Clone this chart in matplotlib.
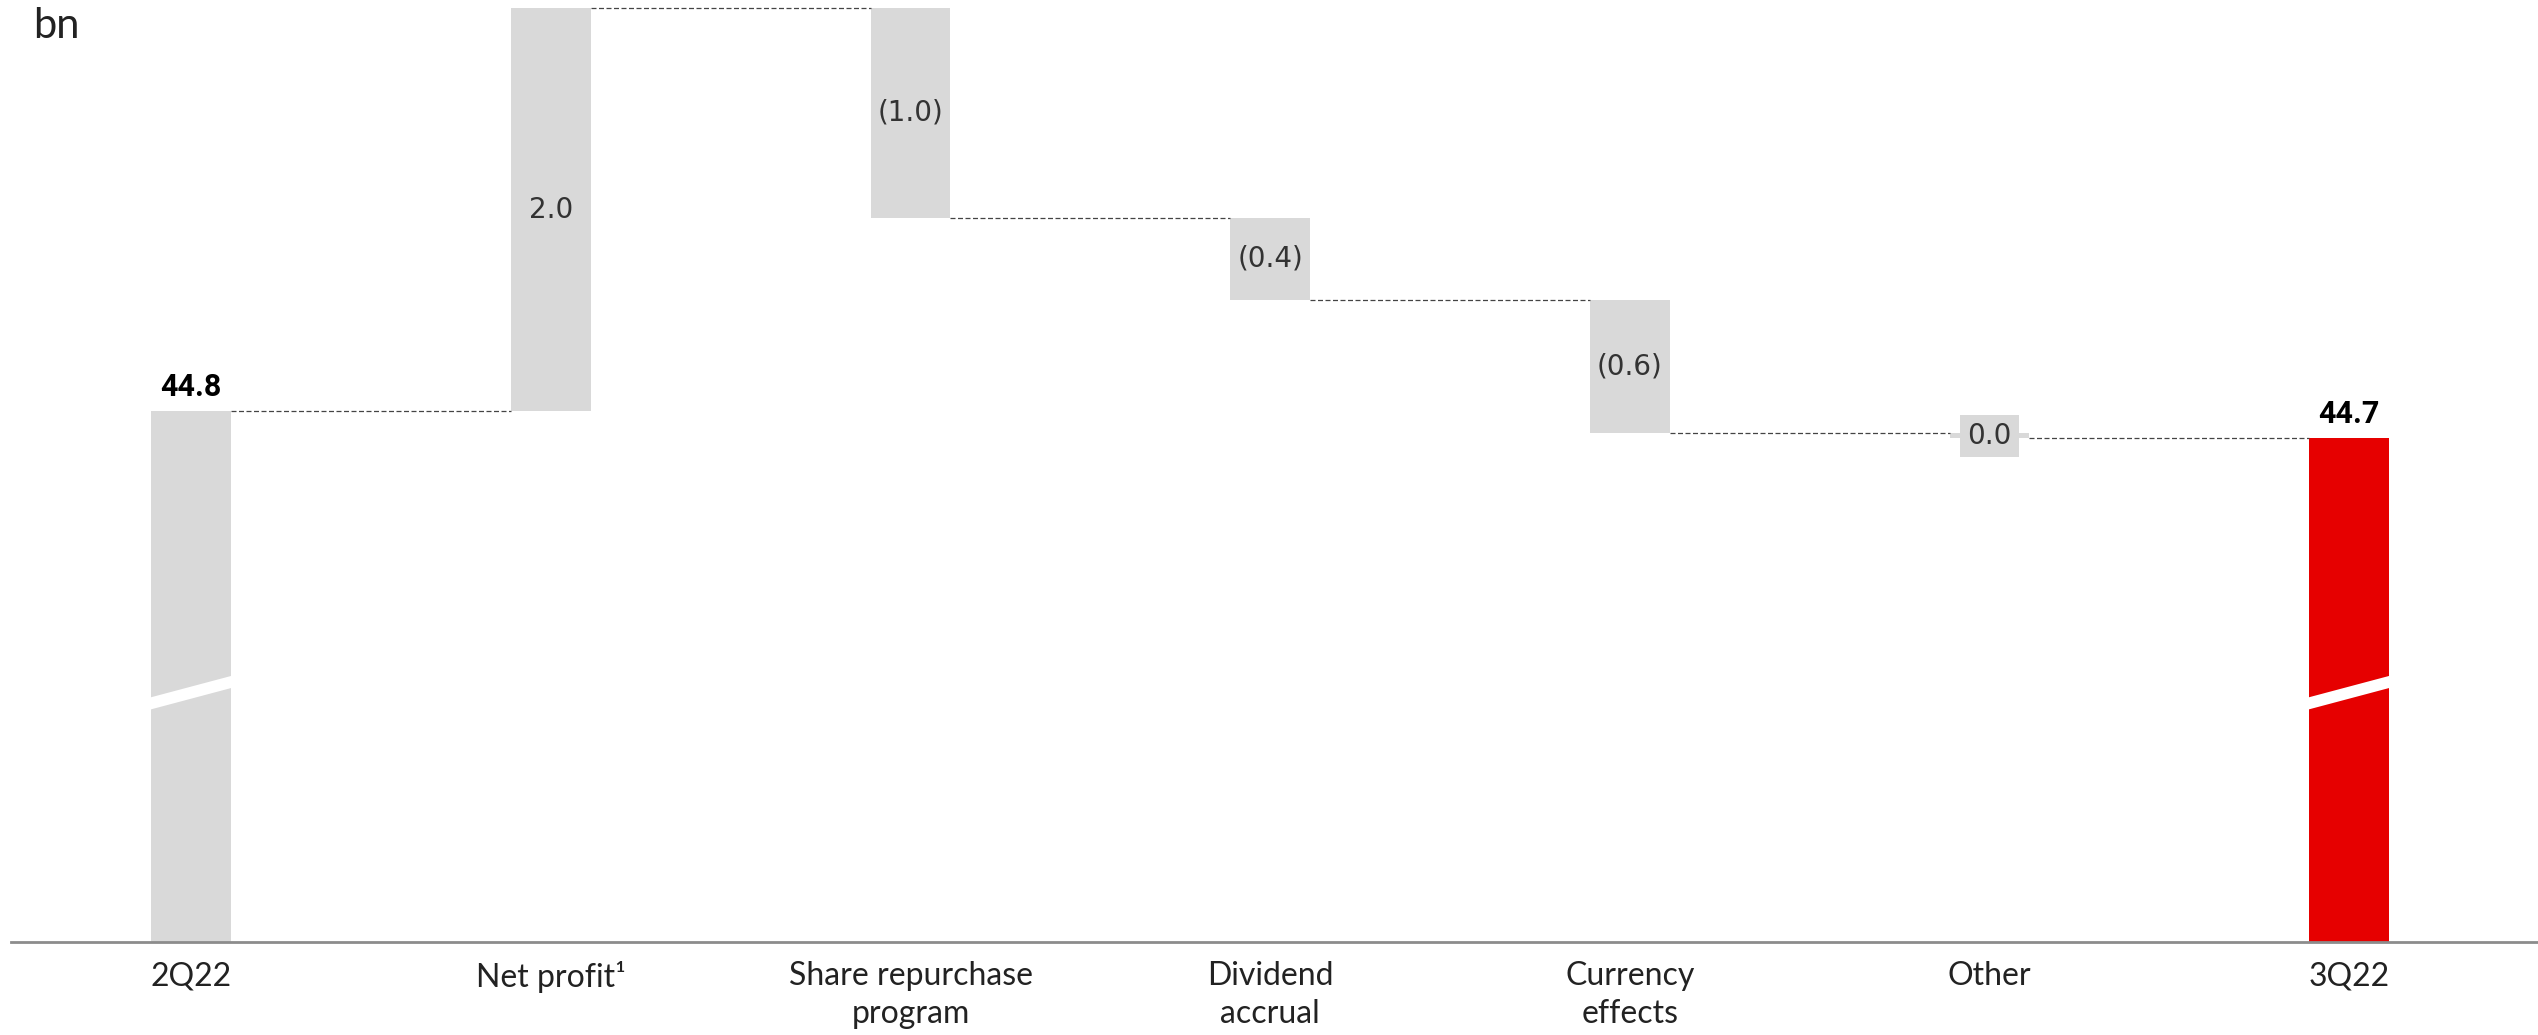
import numpy as np
import matplotlib.pyplot as plt
from matplotlib.patches import Polygon

# data (USD bn)
categories = ["2Q22", "Net profit\u00b9", "Share repurchase\nprogram",
              "Dividend\naccrual", "Currency\neffects", "Other", "3Q22"]
start_value = 44.8
deltas = [2.0, -1.04, -0.41, -0.66, -0.025]
delta_labels = ["2.0", "(1.0)", "(0.4)", "(0.6)", "0.0"]
start_label = "44.8"
end_label = "44.7"

GREY = "#d9d9d9"
RED = "#e60000"
TICK_FONT = ["Lato", "DejaVu Sans"]

levels = start_value + np.concatenate([[0], np.cumsum(deltas)])
end_value = levels[-1]
ymin, ymax = 42.165, 46.84
width = 0.222

fig = plt.figure(figsize=(25.38, 10.35), dpi=100)
ax = fig.add_axes([0.0045, 0.0899, 0.9955, 0.9101])
x = np.arange(len(categories))

# totals
ax.bar(x[0], start_value - ymin, bottom=ymin, width=width, color=GREY)
ax.bar(x[-1], end_value - ymin, bottom=ymin, width=width, color=RED)

# changes
for i, d in enumerate(deltas):
    lo = min(levels[i], levels[i + 1])
    ax.bar(x[i + 1], abs(d), bottom=lo, width=width, color=GREY)

# dashed connectors
for i in range(len(categories) - 1):
    ax.plot([x[i] + width / 2, x[i + 1] - width / 2], [levels[i], levels[i]],
            ls=(0, (4, 2)), lw=0.9, color="#444444", zorder=1)

# axis break marks on the total bars
for xi in (x[0], x[-1]):
    x0, x1 = xi - width / 2 - 0.01, xi + width / 2 + 0.01
    y0, y1, t = 43.375, 43.49, 0.06
    ax.add_patch(Polygon([[x0, y0], [x1, y1], [x1, y1 - t], [x0, y0 - t]],
                         closed=True, facecolor="white", edgecolor="none", zorder=3))

# labels
for xi, yi, lab in [(x[0], start_value, start_label), (x[-1], end_value, end_label)]:
    ax.annotate(lab, (xi, yi), xytext=(0, 11), textcoords="offset points",
                ha="center", va="baseline", fontsize=22, fontweight="bold",
                family="Roboto")
for i, lab in enumerate(delta_labels):
    mid = (levels[i] + levels[i + 1]) / 2
    kw = {}
    if abs(deltas[i]) < 0.1:
        kw["bbox"] = dict(boxstyle="square,pad=0.25", fc=GREY, ec="none")
    ax.text(x[i + 1], mid, lab, ha="center", va="center", fontsize=20,
            color="#333333", family="DejaVu Sans", zorder=4, **kw)

ax.set_xlim(-0.5, 6.525)
ax.set_ylim(ymin, ymax)
ax.set_xticks(x)
ax.set_xticklabels(categories, fontsize=23, family=TICK_FONT, color="#222222",
                   linespacing=1.3)
ax.tick_params(axis="x", length=0, pad=14)
ax.set_yticks([])
for s in ["top", "left", "right"]:
    ax.spines[s].set_visible(False)
ax.spines["bottom"].set_color("#8c8c8c")
ax.spines["bottom"].set_linewidth(2)

fig.text(33 / 2538, 1 - 38 / 1035, "bn", fontsize=30, family=TICK_FONT,
         color="#222222", ha="left", va="baseline")

fig.savefig("out.png", dpi=100)
